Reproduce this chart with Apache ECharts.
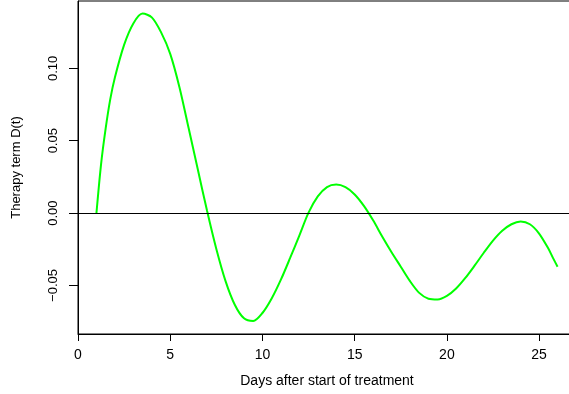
<!DOCTYPE html>
<html>
<head>
<meta charset="utf-8">
<script src="https://cdn.jsdelivr.net/npm/echarts@6/dist/echarts.min.js"></script>
<style>
html,body{margin:0;padding:0;background:#fff;}
#chart{width:569px;height:394px;}
</style>
</head>
<body>
<div id="chart"></div>
<script>
var days = [1.0,1.25,1.5,1.75,2.0,2.5,3.0,3.5,4.0,4.5,5.0,5.5,6.0,6.5,7.0,7.5,8.0,8.5,9.0,9.5,10.0,10.5,11.0,11.5,12.0,12.5,13.0,13.5,14.0,14.5,15.0,15.5,16.0,16.5,17.0,17.5,18.0,18.5,19.0,19.5,20.0,20.5,21.0,21.5,22.0,22.5,23.0,23.5,24.0,24.5,25.0,25.5,25.75,26.0];
var therapy = [0.000,0.0337,0.0585,0.0787,0.0937,0.1162,0.131,0.1378,0.1352,0.1250,0.110,0.087,0.0586,0.0299,0.0014,-0.0248,-0.0470,-0.0633,-0.0727,-0.0745,-0.069,-0.059,-0.046,-0.031,-0.0155,0.0003,0.0115,0.018,0.0197,0.0179,0.0129,0.0050,-0.0050,-0.0163,-0.027,-0.037,-0.047,-0.0551,-0.0591,-0.0596,-0.0572,-0.0521,-0.0448,-0.0363,-0.0274,-0.0190,-0.0122,-0.0077,-0.0058,-0.0077,-0.0141,-0.0245,-0.0309,-0.037];
var xTicks = [0,5,10,15,20,25];
var yTicks = [-0.05,0.00,0.05,0.10];
var xTitle = 'Days after start of treatment';
var yTitle = 'Therapy term D(t)';

var chart = echarts.init(document.getElementById('chart'), null, {renderer:'canvas'});
var seriesData = days.map(function(d,i){return [d, therapy[i]];});
var font = 'Liberation Sans, Arial, Helvetica, sans-serif';
chart.setOption({
  animation:false,
  backgroundColor:'#fff',
  grid:{left:78, top:1, width:498, height:333, show:true, borderColor:'#000', borderWidth:1, backgroundColor:'transparent', containLabel:false, outerBoundsMode:'none'},
  xAxis:{
    type:'value', min:0, max:27,
    name:xTitle, nameLocation:'middle', nameGap:40,
    nameTextStyle:{fontFamily:font, fontSize:14, color:'#000'},
    axisLine:{show:true, onZero:false, lineStyle:{color:'#000', width:1}},
    axisTick:{show:true, length:7, customValues:xTicks, lineStyle:{color:'#000'}},
    axisLabel:{customValues:xTicks, margin:14, fontFamily:font, fontSize:14, color:'#000'},
    splitLine:{show:false}
  },
  yAxis:{
    type:'value', min:-0.0835, max:0.1465,
    name:yTitle, nameLocation:'middle', nameGap:55, nameRotate:90,
    nameTextStyle:{fontFamily:font, fontSize:13, color:'#000'},
    axisLine:{show:true, onZero:false, lineStyle:{color:'#000', width:1}},
    axisTick:{show:true, length:9, customValues:yTicks, lineStyle:{color:'#000'}},
    axisLabel:{customValues:yTicks, rotate:90, margin:18, fontFamily:font, fontSize:13, color:'#000',
      formatter:function(v){ var s=Math.abs(v).toFixed(2); return (v<-1e-9?'\u2212':'')+s; }},
    splitLine:{show:false}
  },
  series:[{
    type:'line', data:seriesData, smooth:0.3, showSymbol:false, symbol:'none',
    lineStyle:{color:'#00ff00', width:2},
    markLine:{silent:true, symbol:'none', label:{show:false},
      lineStyle:{color:'#000', width:1, type:'solid'},
      data:[{yAxis:0}]},
    z:3
  }]
});
</script>
</body>
</html>
